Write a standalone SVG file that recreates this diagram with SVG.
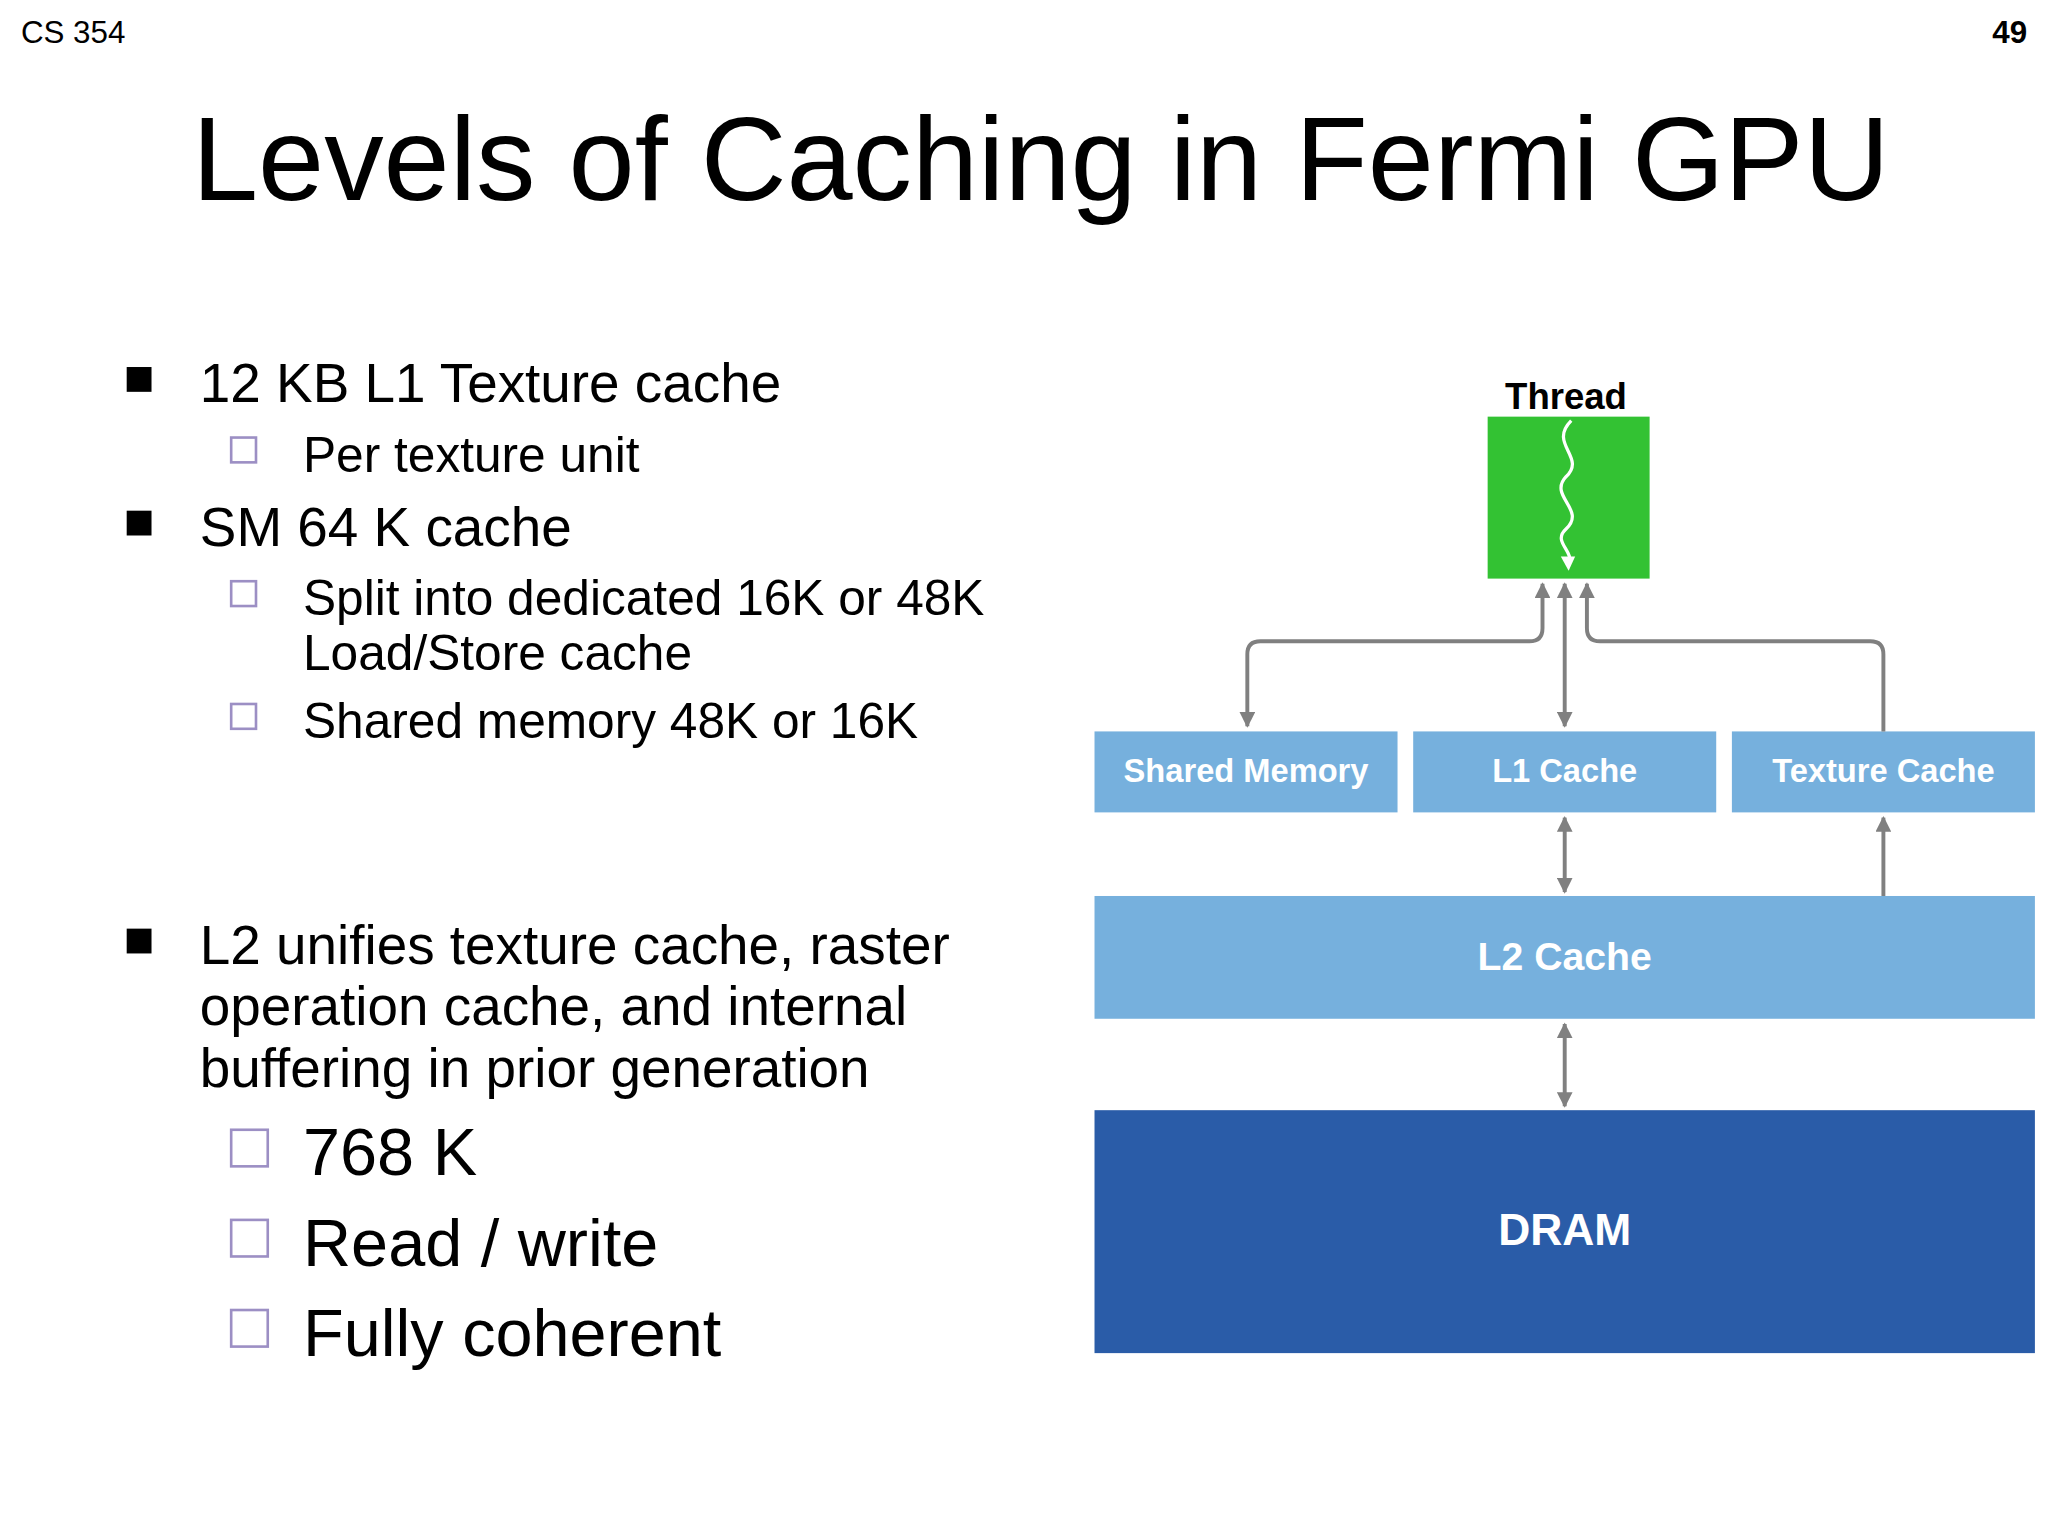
<svg xmlns="http://www.w3.org/2000/svg" width="2048" height="1536" viewBox="0 0 2048 1536">
<defs>
<style>
text{font-family:"Liberation Sans",Arial,sans-serif;fill:#000}
.b{font-size:42px}.s{font-size:38px}.l{font-size:51px}
.bx{font-weight:bold;fill:#fff;text-anchor:middle}
.c{fill:none;stroke:#808080;stroke-width:3}
</style>
<marker id="a" viewBox="0 0 10 10" refX="9" refY="5" markerWidth="4" markerHeight="4" orient="auto-start-reverse"><path d="M0,0L10,5L0,10z" fill="#808080"/></marker>
</defs>
<rect width="2048" height="1536" fill="#fff"/>
<g transform="scale(1.3061)">
<text x="16" y="33" font-size="24">CS 354</text>
<text x="1552" y="33" font-size="24" font-weight="bold" text-anchor="end">49</text>
<text x="147" y="153" font-size="91">Levels of Caching in Fermi GPU</text>
<g fill="#000"><rect x="97" y="281" width="19" height="19"/><rect x="97" y="391" width="19" height="19"/><rect x="97" y="711" width="19" height="19"/></g>
<g fill="none" stroke="#9c8fc4" stroke-width="2"><rect x="177" y="335" width="19" height="19"/><rect x="177" y="445" width="19" height="19"/><rect x="177" y="539" width="19" height="19"/><rect x="177" y="865" width="28" height="28"/><rect x="177" y="934" width="28" height="28"/><rect x="177" y="1003" width="28" height="28"/></g>
<text class="b" x="153" y="308">12 KB L1 Texture cache</text>
<text class="s" x="232" y="361">Per texture unit</text>
<text class="b" x="153" y="418">SM 64 K cache</text>
<text class="s" x="232" y="471">Split into dedicated 16K or 48K</text>
<text class="s" x="232" y="513">Load/Store cache</text>
<text class="s" x="232" y="565">Shared memory 48K or 16K</text>
<text class="b" x="153" y="738">L2 unifies texture cache, raster</text>
<text class="b" x="153" y="785">operation cache, and internal</text>
<text class="b" x="153" y="832">buffering in prior generation</text>
<text class="l" x="232" y="900">768 K</text>
<text class="l" x="232" y="969">Read / write</text>
<text class="l" x="232" y="1038">Fully coherent</text>

<g id="thread"><text x="1199" y="313" font-size="28" font-weight="bold" text-anchor="middle">Thread</text>
<rect x="1139" y="319" width="124" height="124" fill="#33c233"/>
<path d="M1203,322 C1185,340 1215,350 1199,365 C1185,380 1215,390 1199,405 C1188,415 1206,422 1201,432" fill="none" stroke="#fff" stroke-width="2.5"/>
<path d="M1195,426 L1201,437 L1206,426z" fill="#fff"/></g>
<g id="shared"><rect x="838" y="560" width="232" height="62" fill="#76b0dd"/><text class="bx" x="954" y="599" font-size="25">Shared Memory</text></g>
<g id="l1"><rect x="1082" y="560" width="232" height="62" fill="#76b0dd"/><text class="bx" x="1198" y="599" font-size="25">L1 Cache</text></g>
<g id="tex"><rect x="1326" y="560" width="232" height="62" fill="#76b0dd"/><text class="bx" x="1442" y="599" font-size="25">Texture Cache</text></g>
<g id="l2"><rect x="838" y="686" width="720" height="94" fill="#76b0dd"/><text class="bx" x="1198" y="743" font-size="30">L2 Cache</text></g>
<g id="dram"><rect x="838" y="850" width="720" height="186" fill="#2a5ca8"/><text class="bx" x="1198" y="953" font-size="34">DRAM</text></g>
<g id="connectors">
<path class="c" d="M1181,447 V481 Q1181,491 1171,491 H965 Q955,491 955,501 V556" marker-start="url(#a)" marker-end="url(#a)"/>
<path class="c" d="M1198,447 V556" marker-start="url(#a)" marker-end="url(#a)"/>
<path class="c" d="M1442,560 V501 Q1442,491 1432,491 H1225 Q1215,491 1215,481 V447" marker-end="url(#a)"/>
<path class="c" d="M1198,626 V683" marker-start="url(#a)" marker-end="url(#a)"/>
<path class="c" d="M1442,686 V626" marker-end="url(#a)"/>
<path class="c" d="M1198,784 V847" marker-start="url(#a)" marker-end="url(#a)"/>
</g>
</g>
</svg>
